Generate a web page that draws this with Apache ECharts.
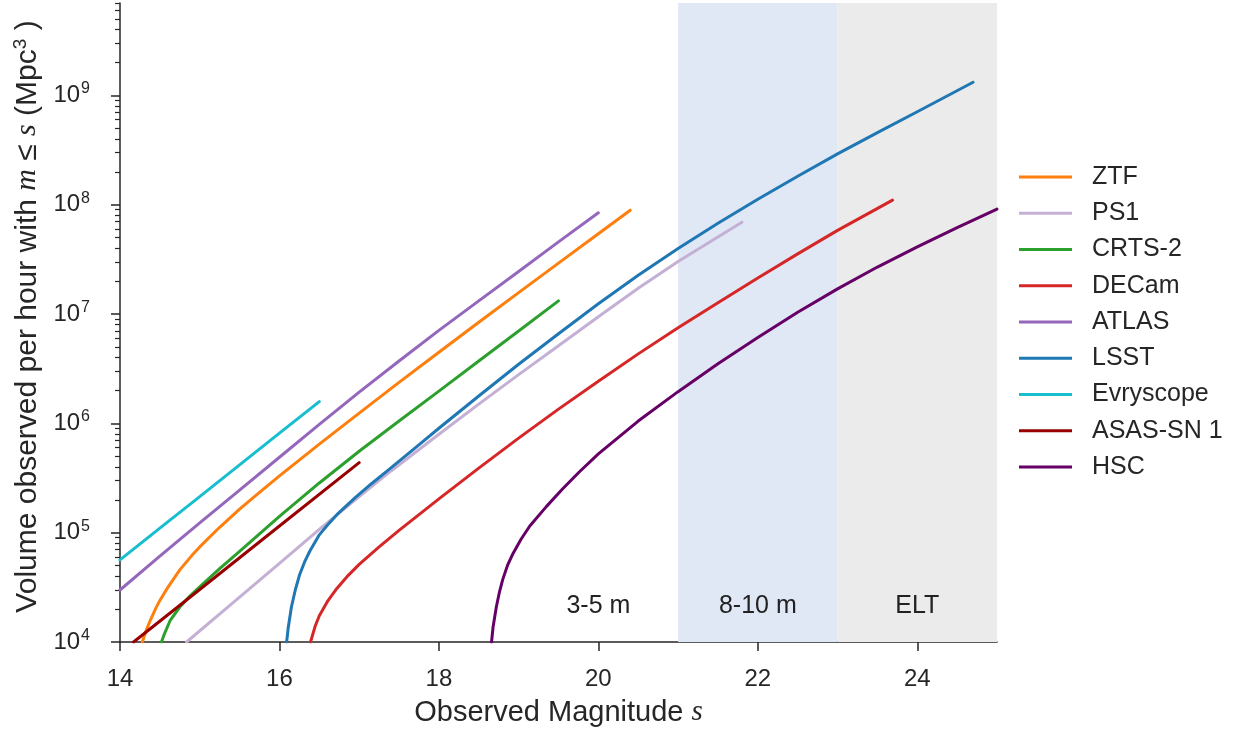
<!DOCTYPE html>
<html>
<head>
<meta charset="utf-8">
<script src="https://cdn.jsdelivr.net/npm/echarts@6/dist/echarts.min.js"></script>
<style>
  html, body { margin: 0; padding: 0; background: #fff; }
  #chart { width: 1236px; height: 729px; }
</style>
</head>
<body>
<div id="chart"></div>
<script>
// ---- data (magnitude s, volume in Mpc^3 per hour) ----
const surveyNames = ['ZTF', 'PS1', 'CRTS-2', 'DECam', 'ATLAS', 'LSST', 'Evryscope', 'ASAS-SN 1', 'HSC'];
const surveyColors = ['#ff7f0e', '#c5b0d5', '#2ca02c', '#d62728', '#9467bd', '#1f77b4', '#17becf', '#990000', '#660066'];

const ztfMag = [14.28, 14.32, 14.38, 14.45, 14.5, 14.6, 14.75, 14.9, 15, 15.25, 15.5, 15.75, 16, 16.5, 17, 17.5, 18, 18.5, 19, 19.5, 20, 20.4];
const ztfVol = [1.0e4, 1.23e4, 1.58e4, 2.04e4, 2.40e4, 3.16e4, 4.57e4, 6.17e4, 7.41e4, 1.12e5, 1.64e5, 2.34e5, 3.31e5, 6.46e5, 1.24e6, 2.37e6, 4.47e6, 8.41e6, 1.57e7, 2.92e7, 5.43e7, 8.91e7];

const ps1Mag = [14.835, 15.5, 16, 16.5, 17, 17.4, 18, 18.5, 19, 19.5, 20, 20.5, 21, 21.8];
const ps1Vol = [1.0e4, 2.57e4, 5.25e4, 1.07e5, 2.14e5, 3.67e5, 7.94e5, 1.50e6, 2.79e6, 5.13e6, 9.44e6, 1.72e7, 3.02e7, 6.92e7];

const crtsMag = [14.52, 14.56, 14.63, 14.75, 14.87, 15, 15.25, 15.5, 16, 16.5, 17, 17.5, 18, 18.5, 19, 19.5];
const crtsVol = [1.0e4, 1.20e4, 1.58e4, 2.09e4, 2.60e4, 3.20e4, 4.68e4, 6.76e4, 1.41e5, 2.85e5, 5.56e5, 1.05e6, 1.97e6, 3.72e6, 7.00e6, 1.32e7];

const decamMag = [16.39, 16.45, 16.5, 16.6, 16.72, 16.85, 17, 17.25, 17.5, 18, 18.5, 19, 19.5, 20, 20.5, 21, 21.5, 22, 22.5, 23, 23.69];
const decamVol = [1.0e4, 1.41e4, 1.74e4, 2.34e4, 3.09e4, 3.98e4, 5.13e4, 7.41e4, 1.05e5, 2.04e5, 3.89e5, 7.33e5, 1.35e6, 2.43e6, 4.32e6, 7.50e6, 1.27e7, 2.14e7, 3.55e7, 5.82e7, 1.10e8];

const atlasMag = [14, 14.5, 15, 15.5, 16, 16.5, 17, 17.5, 18, 18.5, 19, 19.5, 20];
const atlasVol = [2.99e4, 6.1e4, 1.23e5, 2.45e5, 4.90e5, 9.77e5, 1.93e6, 3.72e6, 7.08e6, 1.32e7, 2.45e7, 4.57e7, 8.43e7];

const lsstMag = [16.09, 16.11, 16.15, 16.2, 16.255, 16.32, 16.38, 16.5, 16.6, 16.72, 16.95, 17.15, 17.36, 17.76, 18, 18.5, 19, 19.5, 20, 20.5, 21, 21.5, 22, 22.5, 23, 23.5, 24, 24.7];
const lsstVol = [1.0e4, 1.35e4, 2.09e4, 3.02e4, 4.17e4, 5.50e4, 6.76e4, 9.55e4, 1.17e5, 1.46e5, 2.09e5, 2.79e5, 3.72e5, 6.46e5, 9.02e5, 1.78e6, 3.47e6, 6.61e6, 1.24e7, 2.26e7, 3.98e7, 6.76e7, 1.12e8, 1.82e8, 2.92e8, 4.57e8, 7.08e8, 1.32e9];

const evryMag = [14, 14.5, 15, 15.5, 16, 16.5];
const evryVol = [5.64e4, 1.10e5, 2.14e5, 4.17e5, 8.13e5, 1.58e6];

const asassnMag = [14.17, 15, 16, 17];
const asassnVol = [1.0e4, 3.02e4, 1.15e5, 4.37e5];

const hscMag = [18.66, 18.68, 18.72, 18.76, 18.8, 18.86, 18.93, 19.03, 19.14, 19.35, 19.55, 19.76, 20, 20.5, 21, 21.5, 22, 22.5, 23, 23.5, 24, 24.5, 25];
const hscVol = [1.0e4, 1.38e4, 2.09e4, 2.88e4, 3.72e4, 5.01e4, 6.46e4, 8.71e4, 1.15e5, 1.74e5, 2.51e5, 3.59e5, 5.25e5, 1.05e6, 1.95e6, 3.51e6, 6.10e6, 1.04e7, 1.70e7, 2.69e7, 4.12e7, 6.17e7, 9.12e7];

const surveyMags = [ztfMag, ps1Mag, crtsMag, decamMag, atlasMag, lsstMag, evryMag, asassnMag, hscMag];
const surveyVols = [ztfVol, ps1Vol, crtsVol, decamVol, atlasVol, lsstVol, evryVol, asassnVol, hscVol];

// telescope-class regions
const regionStart = [21, 23];
const regionEnd = [23, 25];
const regionColors = ['#e1e8f5', '#ebebeb'];
const regionLabels = ['3-5 m', '8-10 m', 'ELT'];
const regionLabelMag = [20, 22, 24];
const regionLabelVol = 2.11e4;

// axis ticks
const xTicks = [14, 16, 18, 20, 22, 24];
const yMajorTicks = [1e4, 1e5, 1e6, 1e7, 1e8, 1e9];
const yMinorTicks = [];
for (let e = 4; e <= 9; e++) for (let m = 2; m <= 9; m++) { const v = m * Math.pow(10, e); if (v <= 7e9) yMinorTicks.push(v); }

const TXT = '#262626';
const AX = '#262626';

const chart = echarts.init(document.getElementById('chart'), null, { renderer: 'canvas' });

const series = surveyNames.map((name, i) => ({
  name: name,
  type: 'line',
  data: surveyMags[i].map((s, j) => [s, surveyVols[i][j]]),
  smooth: false,
  showSymbol: false,
  symbol: 'none',
  lineStyle: { color: surveyColors[i], width: 3, cap: 'round', join: 'round' },
  itemStyle: { color: surveyColors[i] },
  z: 3,
  clip: true
}));

series.push({
  name: 'regions',
  type: 'line',
  data: [],
  z: 1,
  silent: true,
  markArea: {
    silent: true,
    itemStyle: { opacity: 1 },
    data: regionStart.map((a, i) => [
      { xAxis: a, itemStyle: { color: regionColors[i] } },
      { xAxis: regionEnd[i] }
    ])
  }
});

series.push({
  name: 'regionText',
  type: 'scatter',
  symbolSize: 0,
  z: 4,
  silent: true,
  data: regionLabels.map((t, i) => ({ value: [regionLabelMag[i], regionLabelVol], name: t })),
  itemStyle: { opacity: 1 },
  label: {
    show: true, position: 'inside', formatter: p => p.name, opacity: 1,
    color: '#222222', fontSize: 25, fontFamily: 'Liberation Sans'
  }
});

const option = {
  animation: false,
  backgroundColor: '#ffffff',
  grid: { left: 120, right: 239, top: 3, bottom: 87, containLabel: false, outerBoundsMode: 'none' },
  legend: {
    data: surveyNames,
    orient: 'vertical',
    left: 1019,
    top: 164,
    padding: 0,
    icon: 'rect',
    itemWidth: 53,
    itemHeight: 3,
    itemGap: 10.25,
    textStyle: { color: TXT, fontSize: 25, fontFamily: 'Liberation Sans', lineHeight: 26, padding: [0, 0, 0, 15] },
    selectedMode: false
  },
  xAxis: {
    type: 'value',
    min: 14, max: 25,
    name: '{t|Observed Magnitude }{i|s}',
    nameLocation: 'middle',
    nameGap: 56,
    nameTextStyle: {
      rich: {
        t: { fontSize: 29, color: TXT, fontFamily: 'Liberation Sans' },
        i: { fontSize: 29, color: TXT, fontFamily: 'Liberation Serif', fontStyle: 'italic' }
      }
    },
    splitLine: { show: false },
    axisLine: { show: true, onZero: false, lineStyle: { color: AX, width: 1.5 } },
    axisTick: { show: true, customValues: xTicks, length: 9, inside: false, lineStyle: { color: AX, width: 1.5 } },
    axisLabel: { customValues: xTicks, margin: 25, color: TXT, fontSize: 24, fontFamily: 'Liberation Sans' }
  },
  yAxis: [{
    type: 'log',
    logBase: 10,
    min: 1e4, max: 7e9,
    name: '{t|Volume observed per hour with }{i|m}{t| ≤ }{i|s}{t| (Mpc}{p|3}{t| )}',
    nameLocation: 'middle',
    nameRotate: 90,
    nameGap: 64,
    nameTextStyle: {
      padding: [0, 0, 0, 12],
      rich: {
        t: { fontSize: 30, color: TXT, fontFamily: 'Liberation Sans' },
        i: { fontSize: 30, color: TXT, fontFamily: 'Liberation Serif', fontStyle: 'italic' },
        p: { fontSize: 19, color: TXT, fontFamily: 'Liberation Sans', verticalAlign: 'top', padding: [0, 0, 14, 0] }
      }
    },
    splitLine: { show: false },
    axisLine: { show: true, lineStyle: { color: AX, width: 1.5 } },
    axisTick: { show: true, customValues: yMajorTicks, length: 9, lineStyle: { color: AX, width: 1.5 } },
    axisLabel: {
      customValues: yMajorTicks,
      margin: 30,
      formatter: v => '{b|10}{s|' + Math.round(Math.log10(v)) + '}',
      rich: {
        b: { fontSize: 24, color: TXT, fontFamily: 'Liberation Sans' },
        s: { fontSize: 16, color: TXT, fontFamily: 'Liberation Sans', verticalAlign: 'top', padding: [0, 0, 13, 1] }
      }
    }
  }, {
    type: 'log',
    logBase: 10,
    min: 1e4, max: 7e9,
    position: 'left',
    splitLine: { show: false },
    axisLine: { show: false },
    axisTick: { show: true, customValues: yMinorTicks, length: 5, lineStyle: { color: AX, width: 1.2 } },
    axisLabel: { show: false }
  }],
  series: series
};

chart.setOption(option);
</script>
</body>
</html>
